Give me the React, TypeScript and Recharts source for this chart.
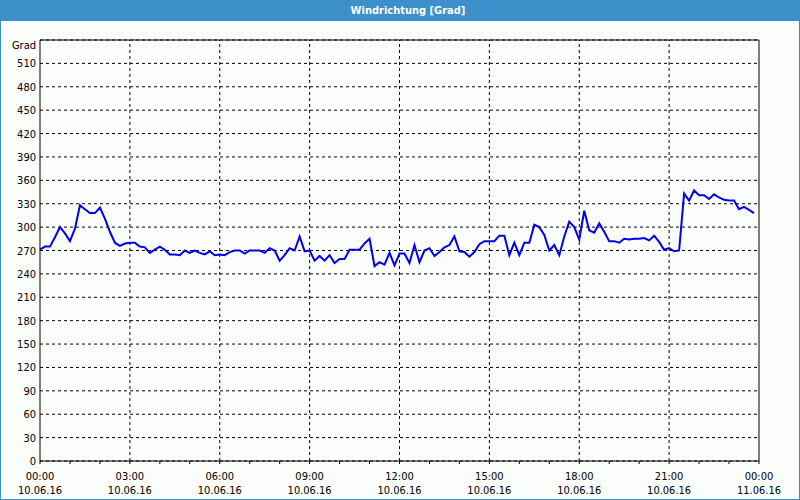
import { CartesianGrid, Line, LineChart, ReferenceLine, XAxis, YAxis } from 'recharts'

// wind direction every 10 minutes, 00:00 .. 23:50
const directions = [
  271, 275, 275, 287, 300, 292, 282, 298, 328, 323, 318, 318,
  325, 311, 294, 280, 276, 279, 280, 280, 275, 274, 267, 271,
  275, 271, 265, 265, 264, 270, 267, 270, 267, 265, 269, 264,
  265, 264, 268, 270, 270, 266, 270, 270, 270, 267, 273, 270,
  257, 264, 273, 270, 288, 269, 270, 257, 263, 257, 264, 254,
  259, 259, 271, 271, 271, 279, 285, 250, 255, 252, 267, 251,
  266, 266, 254, 277, 255, 270, 273, 263, 268, 274, 277, 288,
  269, 268, 262, 268, 278, 282, 282, 282, 289, 289, 264, 280,
  264, 280, 280, 303, 300, 290, 270, 277, 264, 288, 307, 300,
  284, 321, 296, 293, 305, 294, 282, 282, 280, 285, 284, 285,
  285, 286, 283, 289, 281, 271, 273, 269, 270, 343, 334, 347,
  341, 341, 336, 342, 338, 335, 334, 334, 323, 326, 322, 318,
]

const hourTicks = Array.from({ length: 25 }, (_, i) => i * 60)
const majorTimes = [180, 360, 540, 720, 900, 1080, 1260]
const timeLabels = ['00:00', '03:00', '06:00', '09:00', '12:00', '15:00', '18:00', '21:00', '00:00']
const dateLabels = ['10.06.16', '10.06.16', '10.06.16', '10.06.16', '10.06.16', '10.06.16', '10.06.16', '10.06.16', '11.06.16']
const gradTicks = Array.from({ length: 19 }, (_, i) => i * 30)
const compassTicks = Array.from({ length: 13 }, (_, i) => i * 45)
const compassLabels = ['N', 'NE', 'E', 'SE', 'S', 'SW', 'W', 'NW', 'N', 'NE', 'E', 'SE', 'S']

const data = directions.map((deg, i) => ({ t: i * 10, deg }))

const FONT = '"DejaVu Sans Condensed", "DejaVu Sans", sans-serif'

function TimeTick({ x, y, payload }: any) {
  const v = payload.value as number
  if (v % 180 !== 0) return null
  const idx = v / 180
  return (
    <g>
      <text x={x} y={y + 14} textAnchor="middle" fontSize={11} fill="#000" fontFamily={FONT}>
        {timeLabels[idx]}
      </text>
      <text x={x} y={y + 28} textAnchor="middle" fontSize={11} fill="#000" fontFamily={FONT}>
        {dateLabels[idx]}
      </text>
    </g>
  )
}

function GradTick({ x, y, payload }: any) {
  const v = payload.value as number
  const top = v === 540
  return (
    <text x={x} y={y + (top ? 9 : 4)} textAnchor="end" fontSize={11} fill="#000" fontFamily={FONT}>
      {top ? 'Grad' : v}
    </text>
  )
}

export default function App() {
  return (
    <div
      style={{
        position: 'absolute',
        left: 0,
        top: 0,
        width: 800,
        height: 500,
        boxSizing: 'border-box',
        background: '#fbfdfb',
        border: '1px solid #3c8fc8',
        borderTop: 'none',
        fontFamily: FONT,
      }}
    >
      <div
        style={{
          height: 21,
          background: '#3c8fc8',
          color: '#fff',
          fontWeight: 'bold',
          fontSize: 11,
          lineHeight: '21px',
          textAlign: 'center',
          paddingLeft: 16,
          margin: '0 -1px',
        }}
      >
        Windrichtung [Grad]
      </div>
      <div style={{ position: 'absolute', left: -1, top: 20 }}>
        <LineChart width={800} height={480} data={data} margin={{ top: 20, right: 0, bottom: 0, left: 0 }}>
          <CartesianGrid vertical={false} stroke="#000" strokeDasharray="3 3" yAxisId="l" />
          <XAxis
            dataKey="t"
            type="number"
            domain={[0, 1440]}
            ticks={hourTicks}
            interval={0}
            height={39}
            axisLine={{ stroke: '#000' }}
            tickLine={{ stroke: '#000' }}
            tickSize={3}
            tick={<TimeTick />}
          />
          <YAxis
            yAxisId="l"
            domain={[0, 540]}
            ticks={gradTicks}
            interval={0}
            width={40}
            axisLine={{ stroke: '#000' }}
            tickLine={false}
            tickSize={2}
            tickMargin={2}
            tick={<GradTick />}
          />
          <YAxis
            yAxisId="r"
            orientation="right"
            domain={[0, 540]}
            ticks={compassTicks}
            interval={0}
            width={41}
            axisLine={{ stroke: '#000' }}
            tickLine={{ stroke: '#000' }}
            tickSize={3}
            tickMargin={2}
            tickFormatter={(v: number) => compassLabels[v / 45]}
            tick={{ fill: '#000', fontSize: 11, fontFamily: FONT }}
          />
          {majorTimes.map((t) => (
            <ReferenceLine key={t} x={t} yAxisId="l" stroke="#000" strokeDasharray="3 3" />
          ))}
          <ReferenceLine y={540} yAxisId="l" stroke="#000" />
          <Line
            yAxisId="l"
            type="linear"
            dataKey="deg"
            stroke="#0000ee"
            strokeWidth={2}
            dot={false}
            isAnimationActive={false}
          />
        </LineChart>
      </div>
    </div>
  )
}
